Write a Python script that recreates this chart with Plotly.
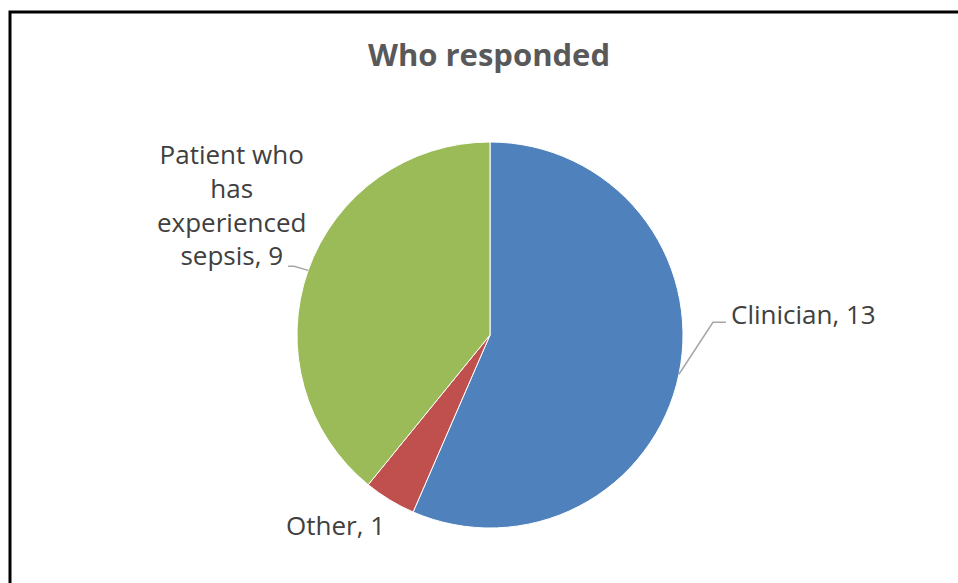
import math
import plotly.graph_objects as go

# ---- data ----
categories = ["Clinician", "Other", "Patient who has experienced sepsis"]
display_labels = ["Clinician, 13", "Other, 1", "Patient who<br>has<br>experienced<br>sepsis, 9"]
values = [13, 1, 9]
colors = ["#4F81BD", "#C0504D", "#9BBB59"]

# ---- layout constants (pixels) ----
W, H = 958, 583
CX, CY, R = 490, 335, 193
FONT = "Open Sans"

def px(x):
    return x / W

def py(y):
    return 1 - y / H

fig = go.Figure(go.Pie(
    labels=categories,
    values=values,
    sort=False,
    direction="clockwise",
    rotation=0,
    marker=dict(colors=colors, line=dict(color="#ffffff", width=1)),
    textinfo="none",
    hoverinfo="label+value",
    domain=dict(x=[px(CX - R), px(CX + R)], y=[py(CY + R), py(CY - R)]),
    showlegend=False,
))

# label placement styles
styles = {
    "Clinician": dict(elbow=(34, -52), end=(13, 0), text=(16, -8), xanchor="left", line=True),
    "Other": dict(elbow=(0, 0), end=(0, 0), text=(-54, 25), xanchor="center", line=False),
    "Patient who has experienced sepsis": dict(elbow=(-14, -4), end=(-6, 0), text=(0, -66), xanchor="right", line=True),
}

total = sum(values)
cum = 0
annotations = []
shapes = []
for cat, lab, v in zip(categories, display_labels, values):
    mid = (cum + v / 2) / total * 2 * math.pi
    cum += v
    x0 = CX + R * math.sin(mid)
    y0 = CY - R * math.cos(mid)
    st = styles[cat]
    ex, ey = x0 + st["elbow"][0], y0 + st["elbow"][1]
    lx, ly = ex + st["end"][0], ey + st["end"][1]
    if st["line"]:
        shapes.append(dict(
            type="path", xref="paper", yref="paper",
            path=f"M {px(x0)} {py(y0)} L {px(ex)} {py(ey)} L {px(lx)} {py(ly)}",
            line=dict(color="#A6A6A6", width=1.5),
        ))
    if cat == "Patient who has experienced sepsis":
        tx, ty = x0, y0 + st["text"][1]
    elif cat == "Clinician":
        tx, ty = ex + st["text"][0], ey + st["text"][1]
    else:
        tx, ty = x0 + st["text"][0], y0 + st["text"][1]
    annotations.append(dict(
        x=px(tx), y=py(ty), xref="paper", yref="paper",
        text=lab, showarrow=False, xanchor=st["xanchor"], yanchor="middle",
        align="center", font=dict(family=FONT, size=26, color="#404040"),
    ))

# chart frame
shapes.append(dict(
    type="rect", xref="paper", yref="paper",
    x0=px(10), x1=1.02, y0=-0.02, y1=py(12),
    line=dict(color="#000000", width=3), fillcolor="rgba(0,0,0,0)",
))

fig.update_layout(
    width=W, height=H,
    margin=dict(l=0, r=0, t=0, b=0),
    paper_bgcolor="#ffffff",
    plot_bgcolor="#ffffff",
    title=dict(
        text="<b>Who responded</b>",
        x=px(489), y=py(55), xanchor="center", yanchor="middle",
        font=dict(family=FONT, size=31, color="#595959"),
    ),
    annotations=annotations,
    shapes=shapes,
)

fig.write_html(
    "out.html",
    config={"displayModeBar": False},
    post_script="document.body.style.margin='0';document.body.style.overflow='hidden';",
)
